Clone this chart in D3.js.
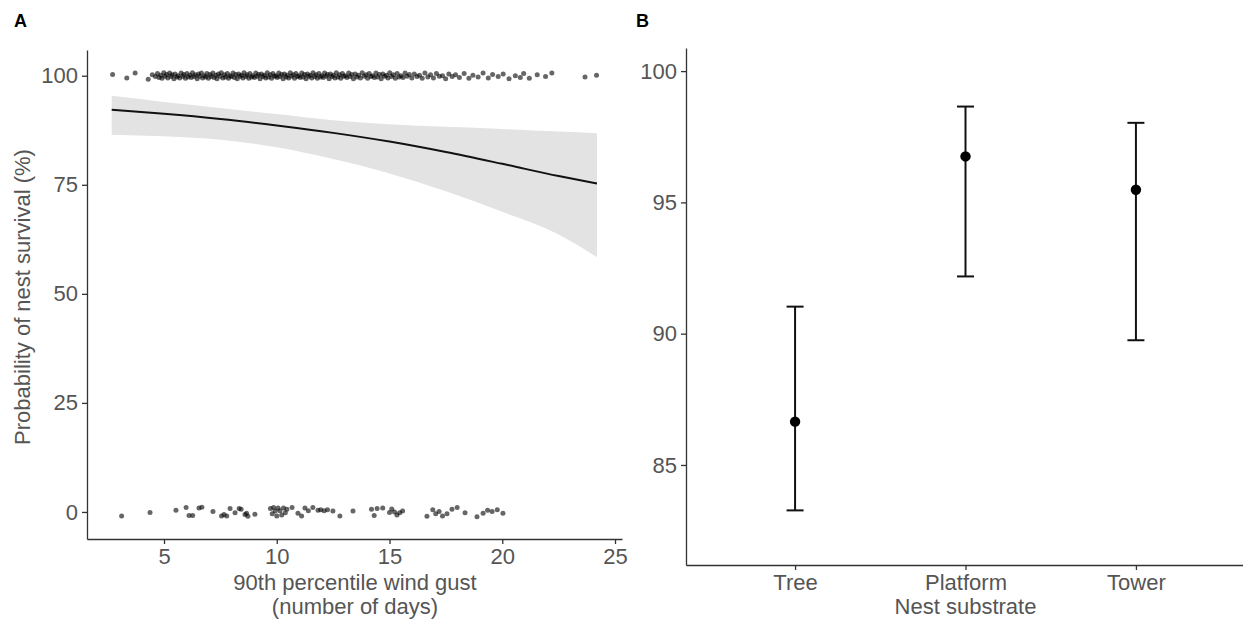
<!DOCTYPE html>
<html>
<head>
<meta charset="utf-8">
<script src="https://cdn.jsdelivr.net/npm/d3@7"></script>
<style>
    body { margin: 0; background: #fff; }
    text { font-family: "Liberation Sans", Arial, sans-serif; }
    .tick text { fill: #555; font-size: 22px; }
    .tick line, .domain { stroke: #333; stroke-width: 1.3px; }
    .axis-title { fill: #555; font-size: 22px; }
</style>
</head>
<body>
<div id="chart"></div>
<script>
var width = 1243,
    height = 624;

// panel A: jittered nest outcomes (x = days, y = survival %)
var survivedNests = [
    [2.72,100.3],[3.35,99.5],[3.72,100.6],[4.30,99.2],[4.48,100.2],[4.62,99.8],
    [4.71,100.5],[4.78,99.6],[4.86,100.1],[4.91,99.4],[4.99,100.7],[5.04,99.9],[5.12,100.3],[5.17,99.5],
    [5.25,100.6],[5.31,99.8],[5.36,100.2],[5.44,99.3],[5.49,100.4],[5.57,99.7],[5.62,100.0],[5.70,99.5],
    [5.76,100.6],[5.83,99.9],[5.88,100.3],[5.95,99.4],[6.02,100.5],[6.07,99.7],[6.15,100.1],[6.21,99.6],
    [6.26,100.7],[6.34,99.8],[6.39,100.2],[6.47,99.3],[6.53,100.4],[6.58,99.9],[6.66,100.6],[6.71,99.5],
    [6.79,100.0],[6.85,99.7],[6.90,100.5],[6.97,99.4],[7.04,100.3],[7.09,99.8],[7.17,100.6],[7.22,99.6],
    [7.30,100.1],[7.35,99.3],[7.41,100.4],[7.49,99.9],[7.54,100.7],[7.61,99.5],[7.68,100.2],[7.73,99.7],
    [7.81,100.5],[7.86,99.4],[7.93,100.0],[7.99,99.8],[8.06,100.6],[8.12,99.6],[8.18,100.3],[8.25,99.3],
    [8.31,100.4],[8.37,99.9],[8.44,100.1],[8.50,99.5],[8.55,100.7],[8.63,99.8],[8.68,100.2],[8.76,99.4],
    [8.81,100.5],[8.88,99.7],[8.94,100.0],[9.01,99.6],[9.07,100.6],[9.13,99.9],[9.20,100.3],[9.26,99.3],
    [9.32,100.4],[9.39,99.8],[9.45,100.1],[9.51,99.5],[9.58,100.7],[9.63,99.7],[9.71,100.2],[9.77,99.4],
    [9.83,100.5],[9.90,99.9],[9.96,100.0],[10.02,99.6],[10.09,100.6],[10.14,99.8],[10.22,100.3],[10.28,99.3],
    [10.34,100.4],[10.41,99.7],[10.46,100.1],[10.53,99.5],[10.60,100.7],[10.65,99.9],[10.73,100.2],[10.79,99.4],
    [10.85,100.5],[10.92,99.8],[10.98,100.0],[11.04,99.6],[11.11,100.6],[11.17,99.7],[11.23,100.3],[11.30,99.3],
    [11.36,100.4],[11.42,99.9],[11.49,100.1],[11.55,99.5],[11.61,100.7],[11.68,99.8],[11.74,100.2],[11.80,99.4],
    [11.87,100.5],[11.93,99.7],[12.00,100.0],[12.06,99.6],[12.12,100.6],[12.19,99.9],[12.25,100.3],[12.32,99.3],
    [12.38,100.4],[12.45,99.8],[12.51,100.1],[12.58,99.5],[12.64,100.7],[12.71,99.7],[12.78,100.2],[12.84,99.4],
    [12.91,100.5],[12.97,99.9],[13.05,100.0],[13.11,99.6],[13.19,100.6],[13.25,99.8],[13.33,100.3],[13.40,99.3],
    [13.48,100.4],[13.55,99.7],[13.63,100.1],[13.71,99.5],[13.79,100.7],[13.88,99.9],[13.96,100.2],[14.03,99.4],
    [14.10,100.5],[14.18,99.8],[14.25,100.0],[14.33,99.6],[14.40,100.6],[14.47,99.7],[14.55,100.3],[14.63,99.3],
    [14.70,100.4],[14.78,99.9],[14.86,100.1],[14.93,99.5],[15.01,100.7],[15.09,99.8],[15.17,100.2],[15.26,99.4],
    [15.34,100.5],[15.43,99.7],[15.51,100.0],[15.60,99.6],[15.69,100.6],[15.78,99.9],
    [15.88,100.3],[15.99,99.5],[16.10,100.4],[16.22,99.8],[16.33,100.1],[16.45,99.4],[16.57,100.6],[16.70,99.7],
    [16.82,100.2],[16.95,99.5],[17.08,100.5],[17.21,99.9],[17.35,100.0],[17.49,99.3],[17.63,100.4],[17.78,99.8],[17.93,100.2],
    [18.10,99.6],[18.31,100.5],[18.52,99.4],[18.70,100.1],[18.93,99.7],[19.15,100.6],[19.38,99.5],[19.57,100.3],
    [19.82,99.8],[20.04,100.4],[20.30,99.3],[20.58,100.0],[20.80,99.6],
    [20.95,100.5],[21.20,99.4],[21.55,100.2],[21.92,99.8],[22.20,100.6],[23.67,99.7],[24.18,100.1]
];

var failedNests = [
    [3.12,-0.9],[4.38,-0.1],[5.53,0.4],[5.98,1.0],[6.11,-0.8],[6.27,-0.8],[6.55,0.9],[6.68,1.1],
    [7.17,0.1],[7.55,-0.9],[7.66,-0.6],[7.78,-0.9],[7.93,0.8],[8.15,-0.2],[8.33,0.8],[8.42,0.6],
    [8.59,-0.6],[8.66,-0.3],[8.72,-1.0],[9.03,-0.5],[9.72,0.8],[9.80,-0.4],[9.86,1.0],[9.93,0.2],
    [10.00,-0.9],[10.06,0.9],[10.14,0.3],[10.22,-0.7],[10.30,0.9],[10.38,-0.2],[10.45,0.6],[10.68,1.0],
    [10.94,-0.3],[11.10,-0.9],[11.25,0.9],[11.40,0.3],[11.60,1.0],[11.83,0.4],[11.95,0.5],[12.10,0.3],
    [12.25,0.5],[12.49,0.2],[12.80,-0.9],[13.38,0.2],[14.20,0.6],[14.32,-0.8],[14.45,0.8],[14.70,0.9],
    [15.00,-0.1],[15.10,0.7],[15.22,0.0],[15.33,-0.7],[15.45,-0.2],[15.58,0.2],[16.66,-1.0],[16.92,0.5],
    [17.05,-0.4],[17.20,0.1],[17.35,-0.9],[17.55,-0.4],[17.77,0.6],[18.00,1.0],[18.35,-0.2],[18.88,-1.1],
    [19.15,-0.3],[19.35,0.4],[19.55,0.1],[19.78,0.5],[20.03,-0.3]
];

// fitted logistic curve and its confidence band
var fitX = [2.68, 5, 7.5, 10, 12.5, 15, 17.5, 20, 22.5, 24.2];
var fitY = [92.2, 91.3, 90.1, 88.6, 86.9, 84.9, 82.5, 79.8, 77.0, 75.3];
var fitLower = [86.5, 86.1, 85.3, 83.6, 80.9, 77.6, 73.5, 68.8, 63.6, 58.4];
var fitUpper = [95.4, 94.0, 92.6, 91.2, 89.8, 88.9, 88.3, 87.8, 87.2, 86.8];

var xTicksA = [5, 10, 15, 20, 25];
var yTicksA = [0, 25, 50, 75, 100];

// panel B: survival by substrate
var substrates = ["Tree", "Platform", "Tower"];
var estimates = [86.65, 96.75, 95.48];
var lowerCI = [83.27, 92.18, 89.75];
var upperCI = [91.03, 98.65, 98.03];
var yTicksB = [85, 90, 95, 100];

var svg = d3.select("#chart")
    .append("svg")
    .attr("width", width)
    .attr("height", height);

// ---------- panel A ----------
var x = d3.scaleLinear()
    .domain([1.585, 25.31])
    .range([87, 622]);

var y = d3.scaleLinear()
    .domain([-6.2, 105.9])
    .range([539, 50]);

var fit = fitX.map(function (d, i) {
    return { x: d, y: fitY[i], lo: fitLower[i], hi: fitUpper[i] };
});

svg.append("path")
    .datum(fit)
    .attr("fill", "#e3e3e3")
    .attr("d", d3.area()
        .curve(d3.curveMonotoneX)
        .x(function (d) { return x(d.x); })
        .y0(function (d) { return y(d.lo); })
        .y1(function (d) { return y(d.hi); }));

svg.append("path")
    .datum(fit)
    .attr("fill", "none")
    .attr("stroke", "#111")
    .attr("stroke-width", 2)
    .attr("d", d3.line()
        .curve(d3.curveMonotoneX)
        .x(function (d) { return x(d.x); })
        .y(function (d) { return y(d.y); }));

svg.selectAll(".pt")
    .data(survivedNests.concat(failedNests))
    .enter()
    .append("circle")
    .attr("class", "pt")
    .attr("cx", function (d) { return x(d[0]); })
    .attr("cy", function (d) { return y(d[1]); })
    .attr("r", 2.5)
    .attr("fill", "#000")
    .attr("fill-opacity", 0.6);

svg.append("g")
    .attr("transform", "translate(0,539)")
    .call(d3.axisBottom(x).tickValues(xTicksA).tickSize(5).tickSizeOuter(0).tickPadding(4));

svg.append("g")
    .attr("transform", "translate(87,0)")
    .call(d3.axisLeft(y).tickValues(yTicksA).tickSize(5).tickSizeOuter(0).tickPadding(4));

svg.append("text")
    .attr("class", "axis-title")
    .attr("transform", "translate(30,297) rotate(-90)")
    .attr("text-anchor", "middle")
    .text("Probability of nest survival (%)");

svg.append("text")
    .attr("class", "axis-title")
    .attr("x", 355)
    .attr("y", 590)
    .attr("text-anchor", "middle")
    .text("90th percentile wind gust");

svg.append("text")
    .attr("class", "axis-title")
    .attr("x", 355)
    .attr("y", 614)
    .attr("text-anchor", "middle")
    .text("(number of days)");

// ---------- panel B ----------
var xB = d3.scalePoint()
    .domain(substrates)
    .range([686, 1245])
    .padding(0.64);

var yB = d3.scaleLinear()
    .domain([81.19, 100.88])
    .range([565, 48]);

var subs = substrates.map(function (d, i) {
    return { name: d, est: estimates[i], lo: lowerCI[i], hi: upperCI[i] };
});

var capHalf = 8.5;

var bars = svg.selectAll(".err")
    .data(subs)
    .enter()
    .append("g")
    .attr("class", "err")
    .attr("stroke", "#111")
    .attr("stroke-width", 2);

bars.append("line")
    .attr("x1", function (d) { return xB(d.name); })
    .attr("x2", function (d) { return xB(d.name); })
    .attr("y1", function (d) { return yB(d.lo); })
    .attr("y2", function (d) { return yB(d.hi); });

bars.append("line")
    .attr("x1", function (d) { return xB(d.name) - capHalf; })
    .attr("x2", function (d) { return xB(d.name) + capHalf; })
    .attr("y1", function (d) { return yB(d.hi); })
    .attr("y2", function (d) { return yB(d.hi); });

bars.append("line")
    .attr("x1", function (d) { return xB(d.name) - capHalf; })
    .attr("x2", function (d) { return xB(d.name) + capHalf; })
    .attr("y1", function (d) { return yB(d.lo); })
    .attr("y2", function (d) { return yB(d.lo); });

svg.selectAll(".est")
    .data(subs)
    .enter()
    .append("circle")
    .attr("class", "est")
    .attr("cx", function (d) { return xB(d.name); })
    .attr("cy", function (d) { return yB(d.est); })
    .attr("r", 5.2)
    .attr("fill", "#000");

svg.append("g")
    .attr("transform", "translate(0,565)")
    .call(d3.axisBottom(xB).tickSize(5).tickSizeOuter(0).tickPadding(4));

svg.append("g")
    .attr("transform", "translate(686,0)")
    .call(d3.axisLeft(yB).tickValues(yTicksB).tickSize(5).tickSizeOuter(0).tickPadding(4));

svg.append("text")
    .attr("class", "axis-title")
    .attr("x", xB("Platform"))
    .attr("y", 614)
    .attr("text-anchor", "middle")
    .text("Nest substrate");

// panel letters
svg.append("text")
    .attr("x", 14)
    .attr("y", 27)
    .style("font-size", "18px")
    .style("font-weight", "bold")
    .text("A");

svg.append("text")
    .attr("x", 636)
    .attr("y", 27)
    .style("font-size", "18px")
    .style("font-weight", "bold")
    .text("B");
</script>
</body>
</html>
